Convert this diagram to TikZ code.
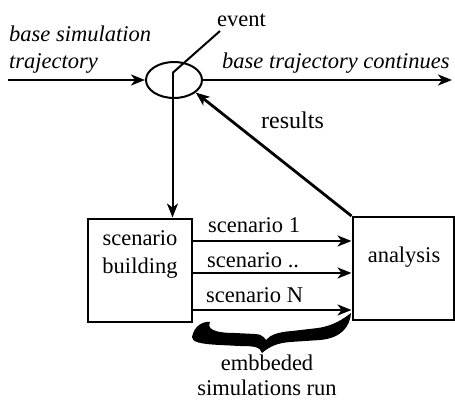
\documentclass[tikz,border=0pt]{standalone}
\usepackage{fontspec}
\setmainfont{Liberation Serif}
\usetikzlibrary{shapes.geometric,arrows.meta}
\begin{document}
\begin{tikzpicture}[x=1pt,y=-1pt,
  lbl/.style={font=\fontsize{22.5}{26}\selectfont, inner sep=0pt},
  ilbl/.style={lbl, font=\fontsize{22.5}{26}\selectfont\itshape},
  box/.style={draw, line width=2pt, minimum width=#1, minimum height=103pt, inner sep=0pt},
  conn/.style={line width=2pt},
  arr/.style={conn, -{Stealth[length=14pt,width=11pt,inset=4pt]}},
]
\useasboundingbox (0,0) rectangle (455,400);
% nodes
\node[draw, ellipse, line width=2pt, minimum width=56pt, minimum height=36pt, inner sep=0pt] (ev) at (174,80) {};
\node[box=104pt] (sb) at (140,270) {};
\node[box=101pt] (an) at (403,268.5) {};
\coordinate (ls) at (8,80);
\coordinate (re) at (452,80);
\coordinate (ec) at (172.5,73);
\coordinate (et) at (220,31);
% labels
\node[ilbl, anchor=base west] (t1) at (9,41) {base simulation};
\node[ilbl, anchor=base west] (t2) at (9,68) {trajectory};
\node[ilbl, anchor=base west] (t3) at (222,68) {base trajectory continues};
\node[lbl, anchor=base west] (t4) at (217,26) {event};
\node[lbl, anchor=base west, font=\fontsize{24}{28}\selectfont] (t5) at (261,128) {results};
\node[lbl, anchor=base] (t6) at (140,245) {scenario};
\node[lbl, anchor=base] (t7) at (140,273) {building};
\node[lbl, anchor=base] (t8) at (404,262) {analysis};
\node[lbl, anchor=base west] (s1) at (208,232) {scenario 1};
\node[lbl, anchor=base west] (s2) at (207,267) {scenario ..};
\node[lbl, anchor=base west] (s3) at (206,302) {scenario N};
\node[lbl, anchor=base] (e1) at (267,370) {embbeded};
\node[lbl, anchor=base] (e2) at (267,395) {simulations run};
% connectors
\draw[arr] (ls) -- (ev.west);
\draw[arr] (ev.east) -- (re);
\draw[conn] (et) -- (ec);
\draw[arr] (ec) -- (ec |- sb.north);
\draw[arr, line width=2.8pt] (an.north west) -- (ev.-30);
\draw[arr] (sb.east |- 0,241) -- (an.west |- 0,241);
\draw[arr] (sb.east |- 0,273) -- (an.west |- 0,273);
\draw[arr] (sb.east |- 0,310) -- (an.west |- 0,310);
% thick brace
\fill (192,337) .. controls (194,326) and (203,321) .. (210,322)
  .. controls (207,328) and (212,333) .. (235,333)
  -- (255,334)
  .. controls (261,334) and (264,337) .. (266,340)
  .. controls (270,335) and (278,332) .. (292,331)
  -- (318,328)
  .. controls (332,326) and (342,320) .. (351,313)
  .. controls (350,326) and (342,338) .. (320,340)
  -- (290,342)
  .. controls (278,343) and (270,346) .. (262,353)
  .. controls (260,347) and (255,346) .. (240,346)
  -- (220,345)
  .. controls (200,344) and (192,342) .. (192,337) -- cycle;
\end{tikzpicture}
\end{document}
